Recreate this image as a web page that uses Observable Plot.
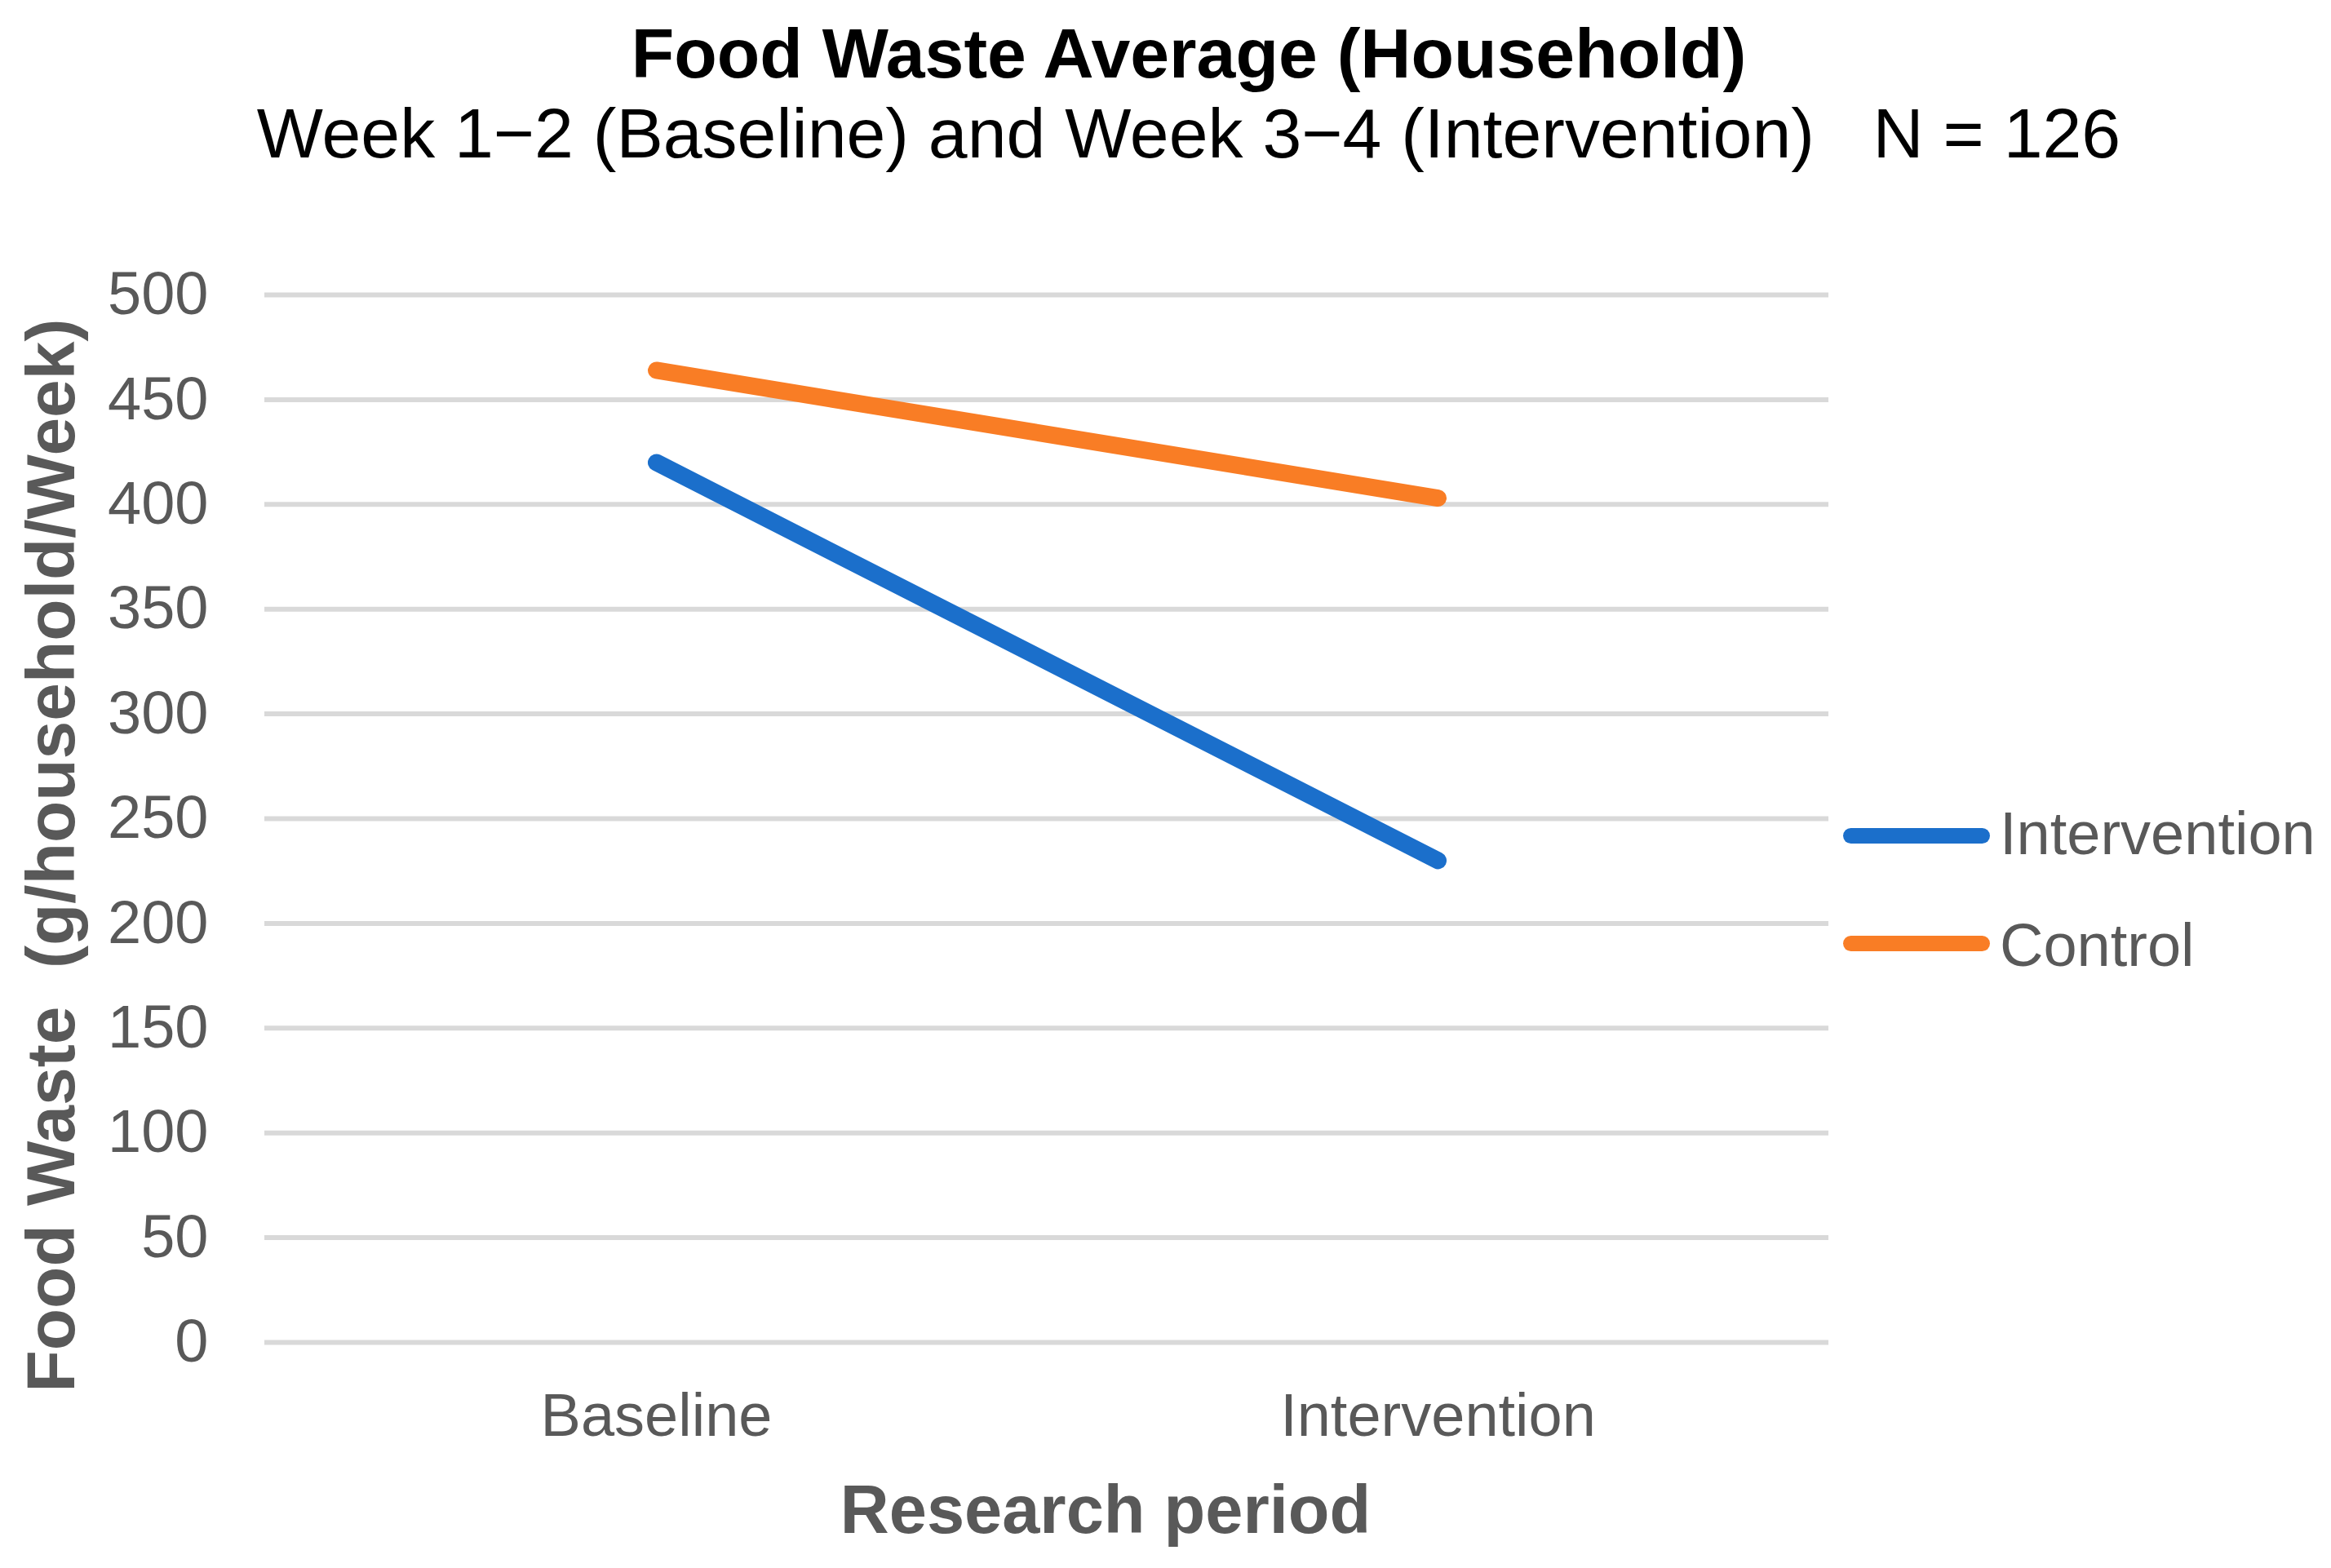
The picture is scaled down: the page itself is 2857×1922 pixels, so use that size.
<!DOCTYPE html>
<html>
<head>
<meta charset="utf-8">
<script src="https://cdn.jsdelivr.net/npm/d3@7"></script>
<script src="https://cdn.jsdelivr.net/npm/@observablehq/plot@0.6"></script>
<style>
  html, body { margin: 0; padding: 0; background: #fff; }
  #page { position: relative; width: 2857px; height: 1922px; overflow: hidden; background: #fff;
          font-family: "Liberation Sans", Arial, sans-serif; }
  .ttl { position: absolute; white-space: pre; line-height: 1; transform: translateX(-50%); color: #000; }
  #plot { position: absolute; left: 0; top: 230px; }
  #plot svg text { white-space: pre; }
  .sw { position: absolute; height: 19px; border-radius: 9.5px; }
  .lt { position: absolute; font-size: 74px; line-height: 1; color: #595959; white-space: pre; }
</style>
</head>
<body>
<div id="page">
  <div class="ttl" id="title" style="left:1457px; top:22px; font-size:86px; font-weight:bold;"></div>
  <div class="ttl" id="subtitle" style="left:1457px; top:120px; font-size:86px;"></div>
  <div id="plot"></div>
  <div id="legend"></div>
</div>
<script>
const titleText = "Food Waste Average (Household)";
const subtitleText = "Week 1\u22122 (Baseline) and Week 3\u22124 (Intervention)   N = 126";
const periods = ["Baseline", "Intervention"];
const groups = ["Intervention", "Control"];
const interventionValues = [420, 230];
const controlValues = [464, 403];
const yTicks = [0, 50, 100, 150, 200, 250, 300, 350, 400, 450, 500];
const colors = ["#1B6FCB", "#F97D25"];
const yLabel = "Food Waste  (g/household/Week)";
const xLabel = "Research period";

document.getElementById("title").textContent = titleText;
document.getElementById("subtitle").textContent = subtitleText;

const rows = periods.flatMap((p, i) => [
  {period: p, group: groups[0], value: interventionValues[i]},
  {period: p, group: groups[1], value: controlValues[i]}
]);

const chart = Plot.plot({
  width: 2857,
  height: 1692,
  marginLeft: 324,
  marginRight: 616,
  marginTop: 131,
  marginBottom: 277,
  style: {fontFamily: "'Liberation Sans', Arial, sans-serif", fontSize: "74px", color: "#595959", background: "white", overflow: "visible"},
  x: {type: "point", domain: periods, padding: 0.5, label: null},
  y: {domain: [0, 500], label: null},
  color: {domain: groups, range: colors},
  marks: [
    Plot.ruleY(yTicks, {stroke: "#D9D9D9", strokeWidth: 6}),
    Plot.axisY(yTicks, {tickSize: 0, tickPadding: 69, fontSize: 74, label: null, fill: "#595959"}),
    Plot.axisX({tickSize: 0, tickPadding: 62, fontSize: 74, label: null, fill: "#595959"}),
    Plot.line(rows, {x: "period", y: "value", z: "group", stroke: "group", strokeWidth: 21, strokeLinecap: "round"}),
    Plot.text([yLabel], {text: d => d, frameAnchor: "left", textAnchor: "middle", lineAnchor: "middle", rotate: -90, dx: -260, dy: 45, fontWeight: "bold", fontSize: 84, fill: "#595959"}),
    Plot.text([xLabel], {text: d => d, frameAnchor: "bottom", textAnchor: "middle", lineAnchor: "middle", dx: 72, dy: 207, fontWeight: "bold", fontSize: 83, fill: "#595959"})
  ]
});
document.getElementById("plot").appendChild(chart);

// legend
const legend = document.getElementById("legend");
const swTops = [1015, 1147];
const txtTops = [985, 1122];
groups.forEach((g, i) => {
  const sw = document.createElement("div");
  sw.className = "sw";
  sw.style.left = "2259px";
  sw.style.width = "180px";
  sw.style.top = swTops[i] + "px";
  sw.style.background = colors[i];
  legend.appendChild(sw);
  const t = document.createElement("div");
  t.className = "lt";
  t.style.left = "2451px";
  t.style.top = txtTops[i] + "px";
  t.textContent = g;
  legend.appendChild(t);
});
</script>
</body>
</html>
